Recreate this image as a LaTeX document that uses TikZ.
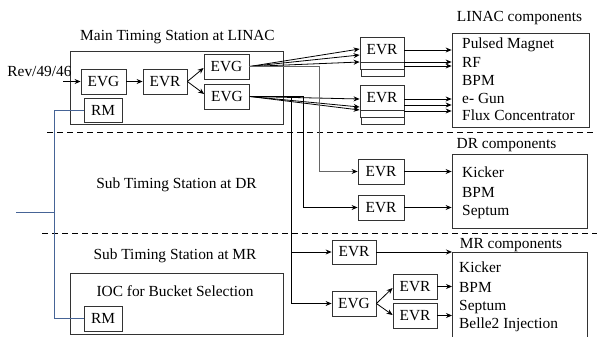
\documentclass[tikz,border=0pt]{standalone}
\usepackage{fontspec}
\setmainfont{Liberation Serif}
\usetikzlibrary{arrows.meta}
\begin{document}
\begin{tikzpicture}[x=1pt,y=-1pt,
  every node/.style={font=\fontsize{15.4}{18}\selectfont, inner sep=0pt},
  box/.style={draw=black!80, line width=0.8pt, minimum width=45pt, minimum height=25pt},
  frame/.style={draw=black!80, line width=0.8pt},
  arr/.style={-{Stealth[length=6pt,width=5pt]}, line width=0.8pt},
  ln/.style={line width=0.8pt},
  sep/.style={dash pattern=on 6pt off 4pt, line width=0.9pt},
  rmline/.style={draw={rgb,255:red,70;green,100;blue,150}, line width=0.9pt},
]
\useasboundingbox (0,0) rectangle (597,337);

% ---------- Main timing station ----------
\node[frame, minimum width=213pt, minimum height=73pt] (main) at (176.5,87.5) {};
\node (mainT) at (177.5,37) {Main Timing Station at LINAC};
\node (rev) at (39.5,71) {Rev/49/46};
\coordinate (revin) at (63,81.5);
\node[box] (evg1) at (103.5,81.5) {EVG};
\node[box, minimum width=44pt] (evr0) at (165,81.5) {EVR};
\node[box] (evga) at (226.5,66.5) {EVG};
\node[box] (evgb) at (227,96.5) {EVG};
\node[box, minimum width=38pt, minimum height=24pt] (rm1) at (103,110) {RM};

\draw[arr] (revin) -- (evg1.west);
\draw[arr] (evg1) -- (evr0);
\draw[arr] (evr0.east) -- ([yshift=-1.5pt]evga.west);
\draw[arr] (evr0.east) -- ([yshift=2.5pt]evgb.west);

% ---------- separators ----------
\draw[sep] (47,132) -- (597,132);
\draw[sep] (42,233) -- (597,233);

% ---------- DR / MR stations ----------
\node (drT) at (176.5,185) {Sub Timing Station at DR};
\node (mrT) at (175,256) {Sub Timing Station at MR};
\node[frame, minimum width=213pt, minimum height=61pt] (ioc) at (176.5,303.5) {};
\node (iocT) at (175,291) {IOC for Bucket Selection};
\node[box, minimum width=38pt, minimum height=25pt] (rm2) at (103,318.5) {RM};

\draw[rmline] (rm1.west) -- ++(-29,0) |- (rm2.west);
\coordinate (stubL) at (16,212);
\coordinate (stubR) at (55,212);
\draw[rmline] (stubL) -- (stubR);

% ---------- LINAC EVR stacks ----------
\node[box, minimum width=44pt] (evrL1) at (382,49.5) {EVR};
\node[box, minimum width=44pt, minimum height=7pt] (evrL1s) at (382,65.5) {};
\node[box, minimum width=43pt, minimum height=7pt] (evrL1t) at (382.5,72.5) {};
\node[box, minimum width=44pt] (evrL2) at (382,97.5) {EVR};
\node[box, minimum width=44pt, minimum height=7pt] (evrL2s) at (382,113.5) {};
\node[box, minimum width=43pt, minimum height=7pt] (evrL2t) at (382.5,120.5) {};

\draw[arr] (evga.east) -- ([yshift=0.5pt]evrL1.west);
\draw[arr] (evga.east) -- ([yshift=-5.5pt]evrL1.west);
\draw[arr] (evga.east) -- ([yshift=-12.5pt]evrL1.west);
\draw[arr] (evgb.east) -- ([yshift=-1.5pt]evrL2.west);
\draw[arr] (evgb.east) -- ([yshift=-9.5pt]evrL2.west);
\draw[arr] (evgb.east) -- ([yshift=-12.5pt]evrL2.west);

% LINAC components
\node[frame, minimum width=137pt, minimum height=94pt] (lin) at (520.5,80) {};
\node (linT) at (519.5,18) {LINAC components};
\node[anchor=west] (li1) at (462,45) {Pulsed Magnet};
\node[anchor=west] (li2) at (462,62) {RF};
\node[anchor=west] (li3) at (462,80) {BPM};
\node[anchor=west] (li4) at (462,98) {e- Gun};
\node[anchor=west] (li5) at (462,115) {Flux Concentrator};

\coordinate (o1) at ([yshift=-0.5pt]evrL1.east);
\coordinate (o2) at ([yshift=-12.5pt]evrL1.east);
\coordinate (o3) at ([yshift=-16.5pt]evrL1.east);
\coordinate (o4) at ([yshift=-1.5pt]evrL2.east);
\coordinate (o5) at ([yshift=-7.5pt]evrL2.east);
\coordinate (o6) at ([yshift=-13.5pt]evrL2.east);
\foreach \o in {o1,o2,o3,o4,o5,o6} \draw[arr] (\o) -- (\o -| lin.west);

% ---------- DR ----------
\node[box, minimum width=46pt] (evrD1) at (381,171.5) {EVR};
\node[box, minimum width=46pt] (evrD2) at (381,207.5) {EVR};
\node[frame, minimum width=135pt, minimum height=74pt] (dr) at (519.5,191) {};
\node (drC) at (506.5,145) {DR components};
\node[anchor=west] (dr1) at (462,172) {Kicker};
\node[anchor=west] (dr2) at (462,192) {BPM};
\node[anchor=west] (dr3) at (462,212) {Septum};
\draw[arr] (evrD1.east) -- (evrD1.east -| dr.west);
\draw[arr] (evrD2.east) -- (evrD2.east -| dr.west);

\coordinate (jA) at (319,66.5);
\coordinate (jB) at (303,96.5);
\coordinate (jC) at (291,96.5);
\draw[-{Stealth[length=6pt,width=5pt,color=black]}, line width=0.8pt, draw=black!60] (evga.east) -- (jA) |- (evrD1.west);
\draw[arr] (evgb.east) -- (jB) |- (evrD2.west);

% ---------- MR ----------
\node[box, minimum width=44pt, minimum height=24pt] (evrM) at (354,252) {EVR};
\node[box, minimum width=44pt] (evgM) at (354,303.5) {EVG};
\node[box, minimum width=44pt] (evrM2) at (415,286.5) {EVR};
\node[box, minimum width=44pt] (evrM3) at (415,315.5) {EVR};
\coordinate (mrTL) at (452,252);
\draw[frame] (452,345) -- (mrTL) -- (587,252) -- (587,345);
\node (mrC) at (511,245) {MR components};
\node[anchor=west] (mr1) at (459,267) {Kicker};
\node[anchor=west] (mr2) at (459,287) {BPM};
\node[anchor=west] (mr3) at (459,307) {Septum};
\node[anchor=west] (mr4) at (459,325) {Belle2 Injection};

\draw[arr] (jC) |- (evrM.west);
\draw[arr] (jC) |- (evgM.west);
\draw[arr] (evrM.east) -- (mrTL);
\draw[arr] (evgM.east) -- ([yshift=-1.5pt]evrM2.west);
\draw[arr] (evgM.east) -- ([yshift=0.5pt]evrM3.west);
\draw[arr] (evrM2.east) -- (evrM2.east -| mrTL);
\draw[arr] (evrM3.east) -- (evrM3.east -| mrTL);
\end{tikzpicture}
\end{document}
